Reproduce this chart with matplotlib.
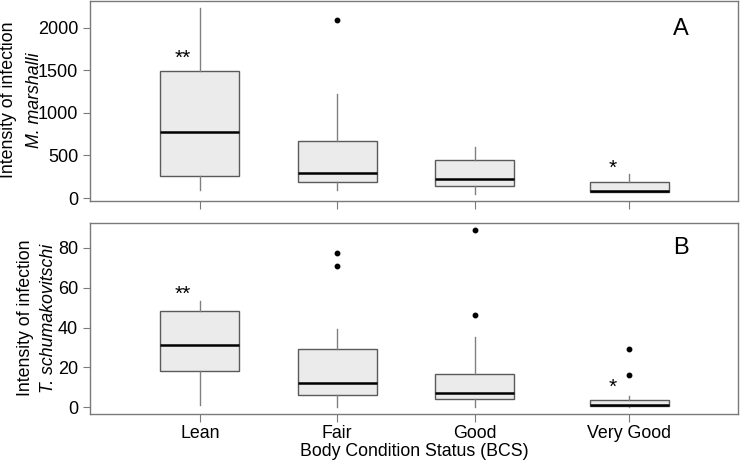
import matplotlib
matplotlib.use("Agg")
import matplotlib.pyplot as plt

plt.rcParams['font.family'] = ['Liberation Sans', 'DejaVu Sans']

categories = ["Lean", "Fair", "Good", "Very Good"]

# M. marshalli: lower whisker, Q1, median, Q3, upper whisker, outliers
mm_whislo = [94, 94, 47, 65]
mm_q1 = [257, 187, 140, 70]
mm_med = [778, 292, 228, 85]
mm_q3 = [1497, 667, 450, 184]
mm_whishi = [2234, 1228, 596, 277]
mm_fliers = [[], [2094], [], []]

# T. schumakovitschi
ts_whislo = [1.2, 0, 0, 0]
ts_q1 = [18.2, 6, 4.2, 0.5]
ts_med = [31.1, 12, 7.1, 1.3]
ts_q3 = [48.4, 29.1, 16.9, 3.5]
ts_whishi = [53.1, 39.2, 35.1, 5.4]
ts_fliers = [[], [77.2, 71], [89, 46.1], [29.1, 16.0]]

# significance marks: (category index, text, y)
mm_marks = [(0, "**", 1640), (3, "*", 350)]
ts_marks = [(0, "**", 56.8), (3, "*", 10)]

# box centres as drawn in the original (not evenly spaced)
POS = [1.0, 2.0, 3.0, 4.127]

EDGE = "#5a5a5a"
FILL = "#ebebeb"
SPINE = "#7a7a7a"


def make_stats(lo, q1, med, q3, hi, fliers):
    stats = []
    for i in range(len(lo)):
        stats.append(dict(whislo=lo[i], q1=q1[i], med=med[i], q3=q3[i],
                          whishi=hi[i], fliers=fliers[i]))
    return stats


def draw_panel(ax, stats, marks, letter, letter_y, ylim, yticks, show_labels):
    ax.bxp(stats, positions=POS, widths=0.575, patch_artist=True,
           showcaps=False,
           boxprops=dict(facecolor=FILL, edgecolor=EDGE, linewidth=1.0),
           medianprops=dict(color="black", linewidth=1.8),
           whiskerprops=dict(color="#808080", linewidth=1.0),
           flierprops=dict(marker="o", markersize=3.2, markerfacecolor="black",
                           markeredgecolor="black"))
    for i, txt, y in marks:
        ax.text(POS[i] - 0.125, y, txt, ha="center", va="center", fontsize=15)
    ax.text(4.503, letter_y, letter, ha="center", va="center", fontsize=17)
    ax.set_xlim(0.199, 4.918)
    ax.set_ylim(*ylim)
    ax.set_yticks(yticks)
    ax.set_xticks(POS)
    if show_labels:
        ax.set_xticklabels(categories, fontsize=12.8)
    else:
        ax.set_xticklabels([])
    ax.tick_params(axis="both", direction="out", length=5, color=SPINE,
                   labelsize=13, pad=3.5)
    ax.tick_params(axis="x", length=6, pad=2, labelsize=12.8)
    for s in ax.spines.values():
        s.set_color(SPINE)
        s.set_linewidth(1.0)


fig = plt.figure(figsize=(7.4, 4.61), dpi=100)
ax1 = fig.add_axes([0.1216, 0.564, 0.8757, 0.434])
ax2 = fig.add_axes([0.1216, 0.102, 0.8757, 0.414])

draw_panel(ax1, make_stats(mm_whislo, mm_q1, mm_med, mm_q3, mm_whishi, mm_fliers),
           mm_marks, "A", 1990, (-35, 2316), [0, 500, 1000, 1500, 2000], False)
draw_panel(ax2, make_stats(ts_whislo, ts_q1, ts_med, ts_q3, ts_whishi, ts_fliers),
           ts_marks, "B", 79.7, (-3.4, 92.4), [0, 20, 40, 60, 80], True)

fig.text(0.012, 0.783, "Intensity of infection", rotation=90, ha="center",
         va="center", fontsize=12.8)
fig.text(0.047, 0.783, "M. marshalli", rotation=90, ha="center",
         va="center", fontsize=12.8, style="italic")
fig.text(0.035, 0.31, "Intensity of infection", rotation=90, ha="center",
         va="center", fontsize=12.8)
fig.text(0.065, 0.31, "T. schumakovitschi", rotation=90, ha="center",
         va="center", fontsize=12.8, style="italic")
fig.text(0.56, 0.02, "Body Condition Status (BCS)", ha="center", va="center",
         fontsize=12.8)

fig.savefig("out.png", dpi=100)
